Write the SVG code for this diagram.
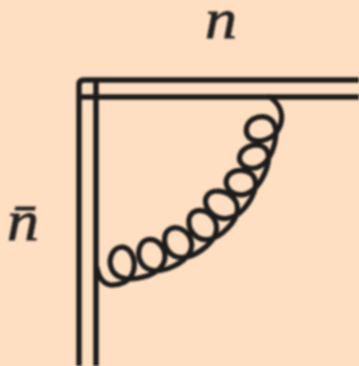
<svg xmlns="http://www.w3.org/2000/svg" width="359" height="366" viewBox="0 0 359 366">
<style>
.w{fill:none;stroke:#1a1a1a;stroke-width:5.500}
.g{fill:none;stroke:#1a1a1a;stroke-width:5.200;stroke-linecap:round}
.t{font-family:"Liberation Serif",serif;font-style:italic;font-size:56px;fill:#222;stroke:#222;stroke-width:.8}
</style>
<defs><filter id="b" x="-5%" y="-5%" width="110%" height="110%"><feGaussianBlur stdDeviation="0.8"/></filter></defs>
<rect width="359" height="366" fill="#ffdfc2"/>
<g id="connectors" filter="url(#b)">
<path id="wilson-outer" class="w" d="M359 80H84Q79 80 79 85V366"/>
<path id="wilson-inner" class="w" d="M79 97H359M96 80V366"/>
<path id="gluon" class="g" d="M97 268C99 279 105 285.500 113 285C144 284 136.300 244.700 120.500 247.200S103.400 287.200 142.200 277.300S161.800 234.600 146.700 239.900S136.500 283.100 172.900 266.500S184 221.200 170.100 229.100S168.900 272.900 201.700 250S204.800 202.400 192.600 212.800S199.200 257 227.300 228.500S217.900 182.700 207.700 195.100S225.600 236.200 248.200 203.200S235.300 163.200 227.500 177S248.200 210.500 264.400 173.900S244.800 140.800 240 155S265.600 179.800 274.500 143.900S249 113 246.500 128S265 145 276 133C284 122 285 108 270 97"/>
</g>
<g id="label-n" filter="url(#b)"><text class="t" x="205" y="38" textLength="32" lengthAdjust="spacingAndGlyphs">n</text></g>
<g id="label-nbar" filter="url(#b)"><text class="t" x="7" y="240" textLength="32" lengthAdjust="spacingAndGlyphs">n̄</text></g>
</svg>
